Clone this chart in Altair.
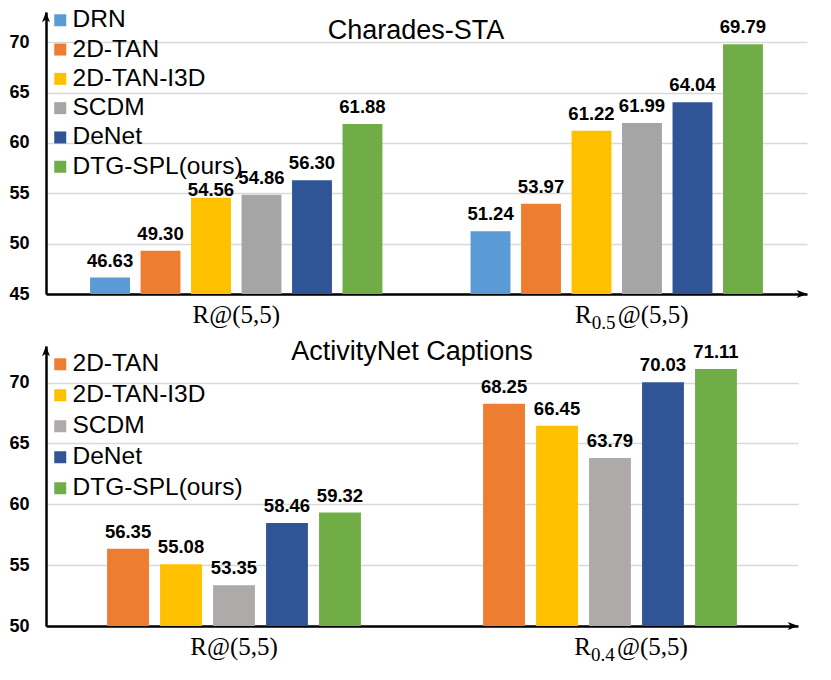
import altair as alt
import pandas as pd

# ---------------- data ----------------
cs_title = "Charades-STA"
cs_metrics = ["R@(5,5)", "R0.5@(5,5)"]
cs_methods = ["DRN", "2D-TAN", "2D-TAN-I3D", "SCDM", "DeNet", "DTG-SPL(ours)"]
cs_colors = ["#5B9BD5", "#ED7D31", "#FFC000", "#A5A5A5", "#2F5597", "#70AD47"]
cs_r = [46.63, 49.30, 54.56, 54.86, 56.30, 61.88]
cs_r05 = [51.24, 53.97, 61.22, 61.99, 64.04, 69.79]
cs_ticks = [45, 50, 55, 60, 65, 70]
cs_sub = ["R", "0.5", "@(5,5)"]
cs_tight = ["R@(5,5)|2D-TAN-I3D"]   # value label sitting close to its bar

an_title = "ActivityNet Captions"
an_metrics = ["R@(5,5)", "R0.4@(5,5)"]
an_methods = ["2D-TAN", "2D-TAN-I3D", "SCDM", "DeNet", "DTG-SPL(ours)"]
an_colors = ["#ED7D31", "#FFC000", "#AEAAAA", "#2F5597", "#70AD47"]
an_r = [56.35, 55.08, 53.35, 58.46, 59.32]
an_r04 = [68.25, 66.45, 63.79, 70.03, 71.11]
an_ticks = [50, 55, 60, 65, 70]
an_sub = ["R", "0.4", "@(5,5)"]
an_tight = []

SANS = "Liberation Sans"
SERIF = "Liberation Serif"


def panel(title, metrics, methods, colors, v1, v2, ticks, sub, tight, ymax,
          W, H, xpi, legend_y, row_pad, title_x, title_y, sub_dx):
    ymin = ticks[0]
    df = pd.DataFrame({
        "metric": [metrics[0]] * len(methods) + [metrics[1]] * len(methods),
        "method": methods + methods,
        "value": v1 + v2,
    })
    df["key"] = df["metric"] + "|" + df["method"]
    df["tight"] = df["key"].isin(tight)
    xenc = alt.X("metric:N", sort=metrics,
                 scale=alt.Scale(domain=metrics, paddingInner=xpi, paddingOuter=xpi / 2),
                 axis=alt.Axis(labels=False, ticks=False, title=None, grid=False,
                               domainColor="black", domainWidth=2.5))
    xoff = alt.XOffset("method:N", sort=methods,
                       scale=alt.Scale(domain=methods, paddingInner=0.21, paddingOuter=0.5))
    yenc = alt.Y("value:Q",
                 scale=alt.Scale(domain=[ymin, ymax], zero=False, nice=False),
                 axis=alt.Axis(values=ticks, title=None, ticks=False,
                               domainColor="black", domainWidth=2.5,
                               gridColor="#D9D9D9", gridWidth=1.5,
                               labelFont=SANS, labelFontWeight="bold",
                               labelFontSize=18, labelColor="black",
                               labelPadding=17))
    base = alt.Chart(df).encode(x=xenc, xOffset=xoff)
    bars = base.mark_bar().encode(
        y=yenc,
        y2=alt.datum(ymin),
        color=alt.Color("method:N", sort=methods,
                        scale=alt.Scale(domain=methods, range=colors),
                        legend=alt.Legend(orient="none", legendX=2, legendY=legend_y,
                                          title=None, symbolType="square",
                                          symbolSize=144, symbolStrokeWidth=0,
                                          symbolOpacity=1,
                                          labelFont=SANS, labelFontSize=24.5,
                                          labelColor="black", labelLimit=400,
                                          rowPadding=row_pad, labelOffset=0,
                                          padding=0)),
    )
    lab_style = dict(font=SANS, fontWeight="bold", fontSize=18.5,
                     baseline="alphabetic", color="black")
    labels = base.mark_text(dy=-11, **lab_style).encode(
        y=alt.Y("value:Q"),
        text=alt.Text("value:Q", format=".2f"),
    ).transform_filter("!datum.tight")
    labels_t = base.mark_text(dy=-2, **lab_style).encode(
        y=alt.Y("value:Q"),
        text=alt.Text("value:Q", format=".2f"),
    ).transform_filter("datum.tight")
    ttl = alt.Chart(pd.DataFrame({"t": [title]})).mark_text(
        font=SANS, fontSize=27, align="center", baseline="alphabetic", color="black"
    ).encode(x=alt.value(title_x), y=alt.value(title_y), text="t:N")

    # x category labels
    xl1 = alt.Chart(pd.DataFrame({"metric": [metrics[0]]})).mark_text(
        font=SERIF, fontSize=25, align="center", baseline="alphabetic", color="black"
    ).encode(x=alt.X("metric:N", sort=metrics), y=alt.value(H + 29), text="metric:N")
    p_r = alt.Chart(pd.DataFrame({"metric": [metrics[1]], "t": [sub[0]]})).mark_text(
        font=SERIF, fontSize=25, align="right", baseline="alphabetic", color="black",
        dx=sub_dx[0]
    ).encode(x=alt.X("metric:N", sort=metrics), y=alt.value(H + 29), text="t:N")
    p_s = alt.Chart(pd.DataFrame({"metric": [metrics[1]], "t": [sub[1]]})).mark_text(
        font=SERIF, fontSize=19, align="left", baseline="alphabetic", color="black",
        dx=sub_dx[1]
    ).encode(x=alt.X("metric:N", sort=metrics), y=alt.value(H + 35), text="t:N")
    p_a = alt.Chart(pd.DataFrame({"metric": [metrics[1]], "t": [sub[2]]})).mark_text(
        font=SERIF, fontSize=25, align="left", baseline="alphabetic", color="black",
        dx=sub_dx[2]
    ).encode(x=alt.X("metric:N", sort=metrics), y=alt.value(H + 29), text="t:N")

    arrow_df = pd.DataFrame({"a": [0]})
    arr_x = alt.Chart(arrow_df).mark_point(
        shape="M 1 0 L -1 -0.75 L -0.5 0 L -1 0.75 Z", filled=True, size=110,
        color="black", opacity=1, strokeWidth=0
    ).encode(x=alt.value(W - 5), y=alt.value(H))
    arr_y = alt.Chart(arrow_df).mark_point(
        shape="M 0 -1 L -0.75 1 L 0 0.5 L 0.75 1 Z", filled=True, size=110,
        color="black", opacity=1, strokeWidth=0
    ).encode(x=alt.value(0), y=alt.value(5))

    layers = [bars, labels]
    if tight:
        layers.append(labels_t)
    layers += [ttl, xl1, p_r, p_s, p_a, arr_x, arr_y]
    return alt.layer(*layers).properties(width=W, height=H)


top = panel(cs_title, cs_metrics, cs_methods, cs_colors, cs_r, cs_r05, cs_ticks,
            cs_sub, cs_tight, 73, 761, 282, 0.099, -4, 4.3, 370, 27, (-25, -25, 1))
bottom = panel(an_title, an_metrics, an_methods, an_colors, an_r, an_r04, an_ticks,
               an_sub, an_tight, 73, 752, 280, 0.184, 6.0, 6.0, 366, 14, (-19, -19, 7))

chart = alt.vconcat(top, bottom, spacing=52, bounds="flush").resolve_scale(
    color="independent", x="independent", y="independent", xOffset="independent"
).resolve_legend(color="independent").properties(
    padding={"left": 0, "top": 0, "right": 0, "bottom": 0}
).configure_view(stroke=None)

chart.save("out.html", embed_options={"renderer": "svg", "actions": False})
